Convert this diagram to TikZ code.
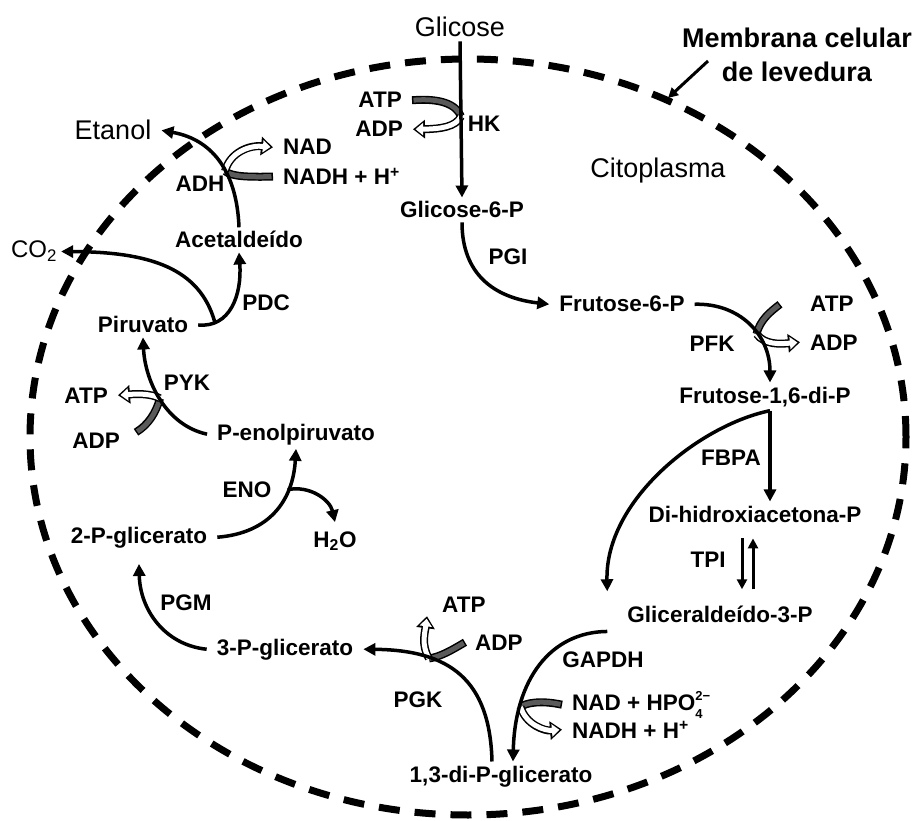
\documentclass[tikz,border=0pt]{standalone}
\usepackage{fontspec}
\setmainfont{Liberation Sans}
\usetikzlibrary{arrows.meta, backgrounds}
\definecolor{cofgray}{HTML}{5A5A5A}
\tikzset{
  % metabolitos e cofatores
  met/.style={font=\fontsize{22.5}{27}\selectfont\bfseries, inner xsep=10pt, inner ysep=4pt},
  % enzimas
  enz/.style={font=\fontsize{22.5}{27}\selectfont\bfseries, inner sep=1pt},
  % textos grandes (compartimentos, entrada e saida)
  big/.style={font=\fontsize{27}{32}\selectfont, inner xsep=10pt, inner ysep=4pt},
  memb/.style={font=\fontsize{27}{34}\selectfont\bfseries, align=center, inner sep=4pt},
  % reacoes
  reac/.style={line width=3.5pt, -{Triangle[length=12pt, width=12pt]}},
  thinreac/.style={line width=3pt, -{Triangle[length=10pt, width=10pt]}},
  % membrana celular
  membrana/.style={line width=7pt, dash pattern=on 21pt off 15pt},
}
% indices pequenos
\newcommand{\supidx}[1]{\raisebox{9.5pt}{\fontsize{13}{13}\selectfont #1}}
\newcommand{\subidx}[1]{\raisebox{-8pt}{\fontsize{13}{13}\selectfont #1}}
% cofator consumido (cinza) e produzido (branco, com seta)
\newcommand{\cofin}[1]{%
  \draw[line width=8pt] #1;
  \draw[line width=5pt, cofgray, shorten <=1.5pt] #1;}
\newcommand{\cofout}[1]{%
  \draw[line width=8pt, -{Triangle[length=12pt, width=18pt]}] #1;
  \draw[line width=5pt, white, shorten >=2.6pt, -{Triangle[length=7.5pt, width=12pt]}] #1;}

\begin{document}
\begin{tikzpicture}[x=1pt, y=-1pt]
  \useasboundingbox (0,0) rectangle (919,821);
  \draw[membrana] (468,437) ellipse [x radius=438pt, y radius=378pt];
  \node[memb] (memb) at (797,55) {Membrana celular\\de levedura};
  \coordinate (mempt) at (668,98);
  \node[big, anchor=base] (cito) at (658,178) {Citoplasma};

  % metabolitos
  \node[big, anchor=base] (glc) at (460,37) {Glicose};
  \node[met, anchor=base] (g6p) at (462,218) {Glicose-6-P};
  \node[met, anchor=base] (f6p) at (622,312) {Frutose-6-P};
  \node[met, anchor=base] (f16) at (765,403) {Frutose-1,6-di-P};
  \node[met, anchor=base] (dhap) at (755,522) {Di-hidroxiacetona-P};
  \node[met, anchor=base] (gap) at (720,622) {Gliceraldeído-3-P};
  \node[met, anchor=base] (bpg) at (501,782) {1,3-di-P-glicerato};
  \node[met, anchor=base] (pg3) at (285,655) {3-P-glicerato};
  \node[met, anchor=base] (pg2) at (139,543) {2-P-glicerato};
  \node[met, anchor=base] (pep) at (296,440) {P-enolpiruvato};
  \node[met, anchor=base] (pyr) at (143,333) {Piruvato};
  \node[met, anchor=base] (acet) at (239,248) {Acetaldeído};
  \node[big, anchor=base] (etoh) at (113,140) {Etanol};
  \node[big, font=\fontsize{24}{28}\selectfont, anchor=base] (co2) at (34,258) {CO\textsubscript{2}};

  % enzimas
  \node[enz, anchor=base] (hk) at (484,132) {HK};
  \node[enz, anchor=base] (pgi) at (508,265) {PGI};
  \node[enz, anchor=base] (pfk) at (712,352) {PFK};
  \node[enz, anchor=base] (fbpa) at (731,465) {FBPA};
  \node[enz, anchor=base] (tpi) at (708,567) {TPI};
  \node[enz, anchor=base] (gapdh) at (603,667) {GAPDH};
  \node[enz, anchor=base] (pgk) at (418,707) {PGK};
  \node[enz, anchor=base] (pgm) at (186,610) {PGM};
  \node[enz, anchor=base] (eno) at (247,497) {ENO};
  \node[enz, anchor=base] (pyk) at (187,390) {PYK};
  \node[enz, anchor=base] (pdc) at (266,310) {PDC};
  \node[enz, anchor=base] (adh) at (200,192) {ADH};

  % cofatores
  \node[met, anchor=base east] (atp1) at (412,108) {ATP};
  \node[met, anchor=base east] (adp1) at (413,137) {ADP};
  \node[met, anchor=base west] (atp2) at (800,312) {ATP};
  \node[met, anchor=base west] (adp2) at (800,350) {ADP};
  \node[met, anchor=base west] (nadhpo) at (562,710) {NAD + HPO\rlap{\supidx{2−}}\subidx{4}};
  \node[met, anchor=base west] (nadh1) at (562,738) {NADH + H\textsuperscript{+}};
  \node[met, anchor=base west] (atp3) at (432,612) {ATP};
  \node[met, anchor=base west] (adp3) at (465,650) {ADP};
  \node[met, anchor=base east] (atp4) at (118,403) {ATP};
  \node[met, anchor=base east] (adp4) at (130,448) {ADP};
  \node[met, anchor=base west] (nad5) at (273,155) {NAD};
  \node[met, anchor=base west] (nadh5) at (273,185) {NADH + H\textsuperscript{+}};
  \node[met, anchor=base] (h2o) at (335,547) {H\textsubscript{2}O};

  % vias
  \draw[thinreac] ([shift={(30pt,-6pt)}]memb.west) -- (mempt);
  \draw[reac] (glc.south) -- (g6p.north) coordinate[pos=0.48] (hkj);
  \draw[reac] (g6p.south) .. controls (462,275) and (495,298) .. (f6p.west);
  \draw[reac] (f6p.east) .. controls (740,303) and (770,335) .. ([xshift=5pt]f16.north) coordinate[pos=0.6] (pfkj);
  \draw[reac] ([xshift=5pt]f16.south) -- ([xshift=15pt]dhap.north);
  \draw[reac] ([xshift=5pt]f16.south) .. controls (700,425) and (605,500) .. ([xshift=-10pt, yshift=10pt]gap.north west);
  \coordinate (tpia) at ([xshift=-13pt]dhap.south);
  \coordinate (tpib) at ([xshift=-2pt]dhap.south);
  \draw[thinreac, shorten <=12pt, shorten >=12pt] (tpia) -- (tpia |- gap.north);
  \draw[thinreac, shorten <=12pt, shorten >=12pt] (tpib |- gap.north) -- (tpib);
  \draw[reac] ([xshift=-10pt, yshift=-5pt]gap.south west) .. controls (550,632) and (515,680) .. ([xshift=12pt]bpg.north) coordinate[pos=0.75] (gapj);
  \draw[reac] ([xshift=-9pt]bpg.north) .. controls (490,680) and (450,650) .. (pg3.east) coordinate[pos=0.7] (pgkj);
  \draw[reac] (pg3.west) .. controls (165,645) and (140,610) .. ([yshift=-12pt]pg2.south);
  \draw[reac] (pg2.east) .. controls (270,533) and (293,500) .. (pep.south) coordinate[pos=0.7] (enoj);
  \draw[reac] (enoj) .. controls (310,485) and (330,500) .. ([yshift=5pt]h2o.north);
  \draw[reac] (pep.west) .. controls (165,425) and (145,380) .. (pyr.south) coordinate[pos=0.5] (pykj);
  \draw[reac] (pyr.east) .. controls (230,328) and (242,295) .. (acet.south) coordinate[pos=0.2] (pdcj);
  \draw[reac] (pdcj) .. controls (200,268) and (150,252) .. ([xshift=-6pt]co2.east);
  \draw[reac] (acet.north) .. controls (237,175) and (215,140) .. (etoh.east) coordinate[pos=0.42] (adhj);

  \begin{pgfonlayer}{background}
    \cofin{(atp1.east) .. controls (440,98) and (456,104) .. (hkj)}
    \cofout{(hkj) .. controls (456,127) and (440,129) .. (adp1.east)}
    \cofin{([xshift=-20pt]atp2.west) .. controls (770,312) and (760,320) .. (pfkj)}
    \cofout{(pfkj) .. controls (765,345) and (780,344) .. (adp2.west)}
    \cofin{(nadhpo.west) .. controls (540,700) and (526,703) .. (gapj)}
    \cofout{(gapj) .. controls (526,725) and (545,731) .. (nadh1.west)}
    \cofin{(adp3.west) .. controls (452,650) and (440,657) .. (pgkj)}
    \cofout{(pgkj) .. controls (421,645) and (425,632) .. ([xshift=-5pt]atp3.south west)}
    \cofin{([shift={(6pt,8pt)}]adp4.east) .. controls (148,425) and (156,413) .. (pykj)}
    \cofout{(pykj) .. controls (150,393) and (135,394) .. (atp4.east)}
    \cofin{(nadh5.west) .. controls (250,177) and (232,177) .. (adhj)}
    \cofout{(adhj) .. controls (230,152) and (250,145) .. (nad5.west)}
  \end{pgfonlayer}
\end{tikzpicture}
\end{document}
